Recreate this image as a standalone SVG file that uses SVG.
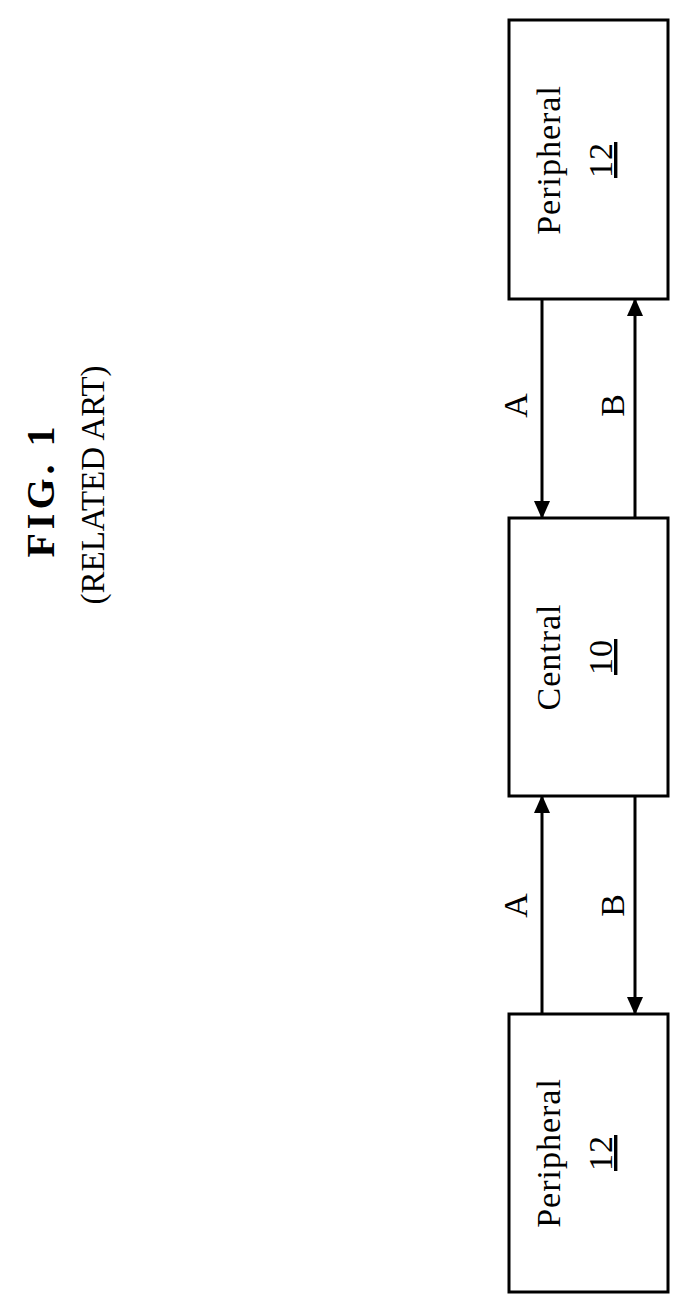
<svg xmlns="http://www.w3.org/2000/svg" width="688" height="1312" viewBox="0 0 688 1312">
<style>
.box{fill:#fff;stroke:#000;stroke-width:3}
.ln{stroke:#000;stroke-width:3;fill:none}
text{font-family:"Liberation Serif",serif;fill:#000}
.lbl{font-size:34px;text-anchor:middle;letter-spacing:1px}
</style>
<defs>
<marker id="ah" markerWidth="18" markerHeight="16" refX="16" refY="8" orient="auto" markerUnits="userSpaceOnUse" viewBox="0 0 18 16">
<path d="M0,0 L18,8 L0,16 z" fill="#000"/>
</marker>
</defs>
<rect width="688" height="1312" fill="#fff"/>
<g id="title">
<text transform="translate(54,490) rotate(-90)" font-size="40" font-weight="bold" letter-spacing="4" text-anchor="middle">FIG. 1</text>
<text transform="translate(104,485) rotate(-90)" font-size="33" text-anchor="middle">(RELATED ART)</text>
</g>
<g id="peripheral-top">
<rect class="box" x="509" y="20" width="159" height="279"/>
<text class="lbl" transform="translate(560,160) rotate(-90)">Peripheral</text>
<text class="lbl" transform="translate(612,160) rotate(-90)" text-decoration="underline">12</text>
</g>
<g id="central">
<rect class="box" x="509" y="518" width="159" height="278"/>
<text class="lbl" transform="translate(560,657) rotate(-90)">Central</text>
<text class="lbl" transform="translate(612,657) rotate(-90)" text-decoration="underline">10</text>
</g>
<g id="peripheral-bottom">
<rect class="box" x="509" y="1014" width="159" height="278"/>
<text class="lbl" transform="translate(560,1153) rotate(-90)">Peripheral</text>
<text class="lbl" transform="translate(612,1153) rotate(-90)" text-decoration="underline">12</text>
</g>
<g id="connectors">
<line class="ln" x1="542" y1="299" x2="542" y2="517" marker-end="url(#ah)"/>
<line class="ln" x1="635" y1="518" x2="635" y2="300" marker-end="url(#ah)"/>
<line class="ln" x1="542" y1="1014" x2="542" y2="797" marker-end="url(#ah)"/>
<line class="ln" x1="635" y1="796" x2="635" y2="1013" marker-end="url(#ah)"/>
<text class="lbl" transform="translate(527,405) rotate(-90)">A</text>
<text class="lbl" transform="translate(624,405) rotate(-90)">B</text>
<text class="lbl" transform="translate(527,905) rotate(-90)">A</text>
<text class="lbl" transform="translate(624,905) rotate(-90)">B</text>
</g>
</svg>
